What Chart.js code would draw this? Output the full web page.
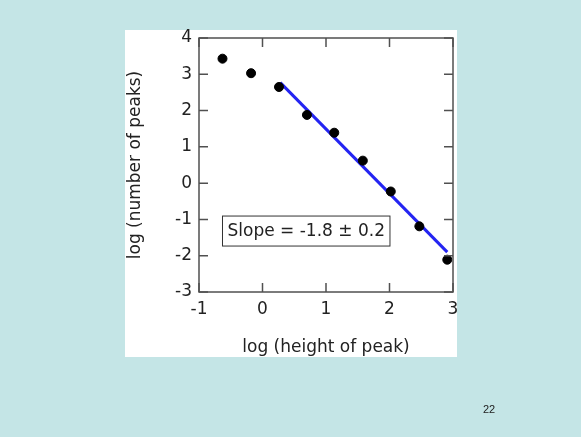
<!DOCTYPE html>
<html>
<head>
<meta charset="utf-8">
<script src="https://cdn.jsdelivr.net/npm/chart.js@4/dist/chart.umd.min.js"></script>
<style>
  html, body { margin: 0; padding: 0; background: #c4e5e6; }
  canvas { display: block; }
</style>
</head>
<body>
<canvas id="myChart" width="581" height="437"></canvas>
<script>
// measured points (log height, log count)
const logHeight = [-0.63, -0.18, 0.26, 0.70, 1.13, 1.58, 2.02, 2.47, 2.91];
const logCount = [3.43, 3.03, 2.65, 1.88, 1.39, 0.62, -0.23, -1.19, -2.11];
// fitted line end points
const fitX = [0.28, 2.91];
const fitY = [2.77, -1.90];
const xTicks = [-1, 0, 1, 2, 3];
const yTicks = [-3, -2, -1, 0, 1, 2, 3, 4];
const slopeText = 'Slope = -1.8 \u00b1 0.2';
const slideNumber = '22';

const font = 'DejaVu Sans';
const ink = '#222';

const frame = {
  id: 'frame',
  beforeDraw(chart) {
    const c = chart.ctx;
    c.save();
    c.fillStyle = '#c4e5e6';
    c.fillRect(0, 0, chart.width, chart.height);
    c.fillStyle = '#fff';
    c.fillRect(125, 30, 332, 327);
    c.restore();
  },
  afterDraw(chart) {
    const c = chart.ctx;
    const a = chart.chartArea;
    const xs = chart.scales.x, ys = chart.scales.y;
    c.save();
    c.strokeStyle = '#505050';
    c.lineWidth = 1.5;
    c.strokeRect(a.left, a.top, a.right - a.left, a.bottom - a.top);
    const t = 9;
    c.beginPath();
    xTicks.forEach(v => {
      const px = xs.getPixelForValue(v);
      c.moveTo(px, a.bottom); c.lineTo(px, a.bottom - t);
      c.moveTo(px, a.top); c.lineTo(px, a.top + t);
    });
    yTicks.forEach(v => {
      const py = ys.getPixelForValue(v);
      c.moveTo(a.left, py); c.lineTo(a.left + t, py);
      c.moveTo(a.right, py); c.lineTo(a.right - t, py);
    });
    c.stroke();

    // slope label box
    c.font = '17px "' + font + '"';
    const bx = xs.getPixelForValue(-0.63);
    const by = ys.getPixelForValue(-1.32);
    const w = c.measureText(slopeText).width + 10;
    c.fillStyle = '#fff';
    c.fillRect(bx, by - 15, w, 30);
    c.strokeStyle = '#333';
    c.lineWidth = 1;
    c.strokeRect(bx, by - 15, w, 30);
    c.fillStyle = ink;
    c.textBaseline = 'middle';
    c.fillText(slopeText, bx + 5, by + 1);

    c.font = '11px "Liberation Sans"';
    c.textAlign = 'center';
    c.fillText(slideNumber, 489, 410);
    c.restore();
  }
};

new Chart(document.getElementById('myChart'), {
  type: 'scatter',
  data: {
    datasets: [{
      data: logHeight.map((x, i) => ({ x: x, y: logCount[i] })),
      backgroundColor: '#000',
      borderColor: '#000',
      pointRadius: 4.5,
      order: 1
    }, {
      type: 'line',
      data: fitX.map((x, i) => ({ x: x, y: fitY[i] })),
      borderColor: '#2424f2',
      borderWidth: 3,
      pointRadius: 0,
      fill: false,
      order: 2
    }]
  },
  options: {
    responsive: false,
    animation: false,
    layout: { padding: { left: 125, top: 38, right: 128, bottom: 78 } },
    scales: {
      x: {
        type: 'linear',
        min: -1, max: 3,
        afterFit: s => { s.height = 67; },
        afterBuildTicks: s => { s.ticks = xTicks.map(v => ({ value: v })); },
        grid: { display: false, drawTicks: false },
        border: { display: false },
        ticks: { color: ink, padding: 7, maxRotation: 0, font: { family: font, size: 17 } },
        title: {
          display: true, text: 'log (height of peak)', color: ink,
          padding: { top: 0, bottom: 1 }, font: { family: font, size: 17 }
        }
      },
      y: {
        type: 'linear',
        min: -3, max: 4,
        afterFit: s => { s.width = 74; },
        afterBuildTicks: s => { s.ticks = yTicks.map(v => ({ value: v })); },
        grid: { display: false, drawTicks: false },
        border: { display: false },
        ticks: { color: ink, padding: 7, font: { family: font, size: 17 } },
        title: {
          display: true, text: 'log (number of peaks)', color: ink,
          padding: { top: 0, bottom: 0 }, font: { family: font, size: 17 }
        }
      }
    },
    plugins: {
      legend: { display: false },
      tooltip: { enabled: false }
    }
  },
  plugins: [frame]
});
</script>
</body>
</html>
